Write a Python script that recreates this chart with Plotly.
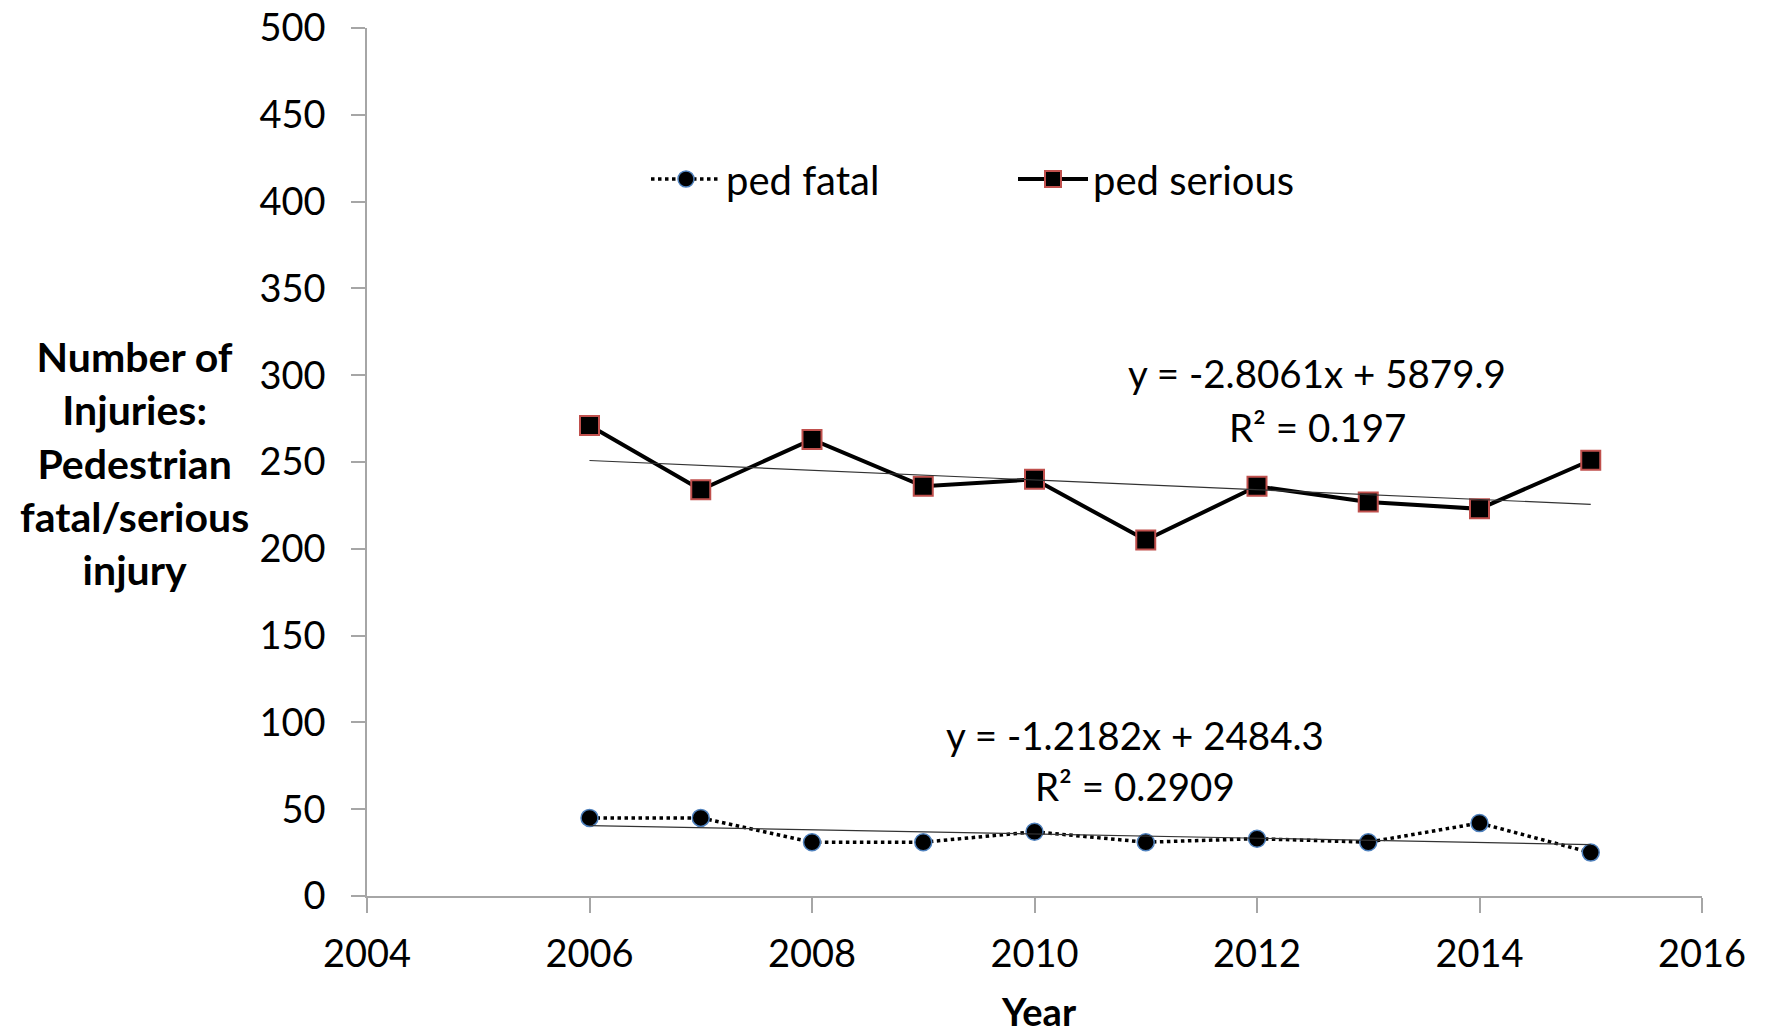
import plotly.graph_objects as go

years = [2006, 2007, 2008, 2009, 2010, 2011, 2012, 2013, 2014, 2015]
ped_fatal = [45, 45, 31, 31, 37, 31, 33, 31, 42, 25]
ped_serious = [271, 234, 263, 236, 240, 205, 236, 227, 223, 251]

fatal_slope, fatal_intercept = -1.2182, 2484.3
serious_slope, serious_intercept = -2.8061, 5879.9
fatal_eq = ["y = -1.2182x + 2484.3", "R² = 0.2909"]
serious_eq = ["y = -2.8061x + 5879.9", "R² = 0.197"]

x_ticks = [2004, 2006, 2008, 2010, 2012, 2014, 2016]
y_ticks = [0, 50, 100, 150, 200, 250, 300, 350, 400, 450, 500]

FONT = "Lato, Carlito, Calibri, sans-serif"

# figure geometry (body margin removed so page == figure pixels)
W, H = 1769, 1035
L, R, T, B = 367, 67, 28, 139
PW, PH = W - L - R, H - T - B


def px(xp):
    return (xp - L) / PW


def py(yp):
    return (T + PH - yp) / PH


trend_x = [years[0], years[-1]]

fig = go.Figure()
fig.add_trace(go.Scatter(
    x=years, y=ped_fatal, name="ped fatal", mode="lines+markers",
    line=dict(color="black", width=3.5, dash="dot"),
    marker=dict(symbol="circle", size=17, color="black",
                line=dict(color="#4f81bd", width=1.5)),
))
fig.add_trace(go.Scatter(
    x=years, y=ped_serious, name="ped serious", mode="lines+markers",
    line=dict(color="black", width=4),
    marker=dict(symbol="square", size=19, color="black",
                line=dict(color="#c0504d", width=2)),
))
fig.add_trace(go.Scatter(
    x=trend_x, y=[fatal_slope * x + fatal_intercept for x in trend_x],
    mode="lines", line=dict(color="#333333", width=1.2), showlegend=False,
    hoverinfo="skip",
))
fig.add_trace(go.Scatter(
    x=trend_x, y=[serious_slope * x + serious_intercept for x in trend_x],
    mode="lines", line=dict(color="#333333", width=1.2), showlegend=False,
    hoverinfo="skip",
))

annotations = []
for txt, ypix in zip(serious_eq, [373, 427]):
    annotations.append(dict(x=px(1317), y=py(ypix), xref="paper", yref="paper",
                            text=txt, showarrow=False, xanchor="center",
                            yanchor="middle",
                            font=dict(family=FONT, size=38.5, color="black")))
for txt, ypix in zip(fatal_eq, [735, 786]):
    annotations.append(dict(x=px(1135), y=py(ypix), xref="paper", yref="paper",
                            text=txt, showarrow=False, xanchor="center",
                            yanchor="middle",
                            font=dict(family=FONT, size=38.5, color="black")))
annotations.append(dict(
    x=px(134), y=py(463), xref="paper", yref="paper",
    text="Number of<br>Injuries:<br>Pedestrian<br>fatal/serious<br>injury",
    showarrow=False, xanchor="center", yanchor="middle", align="center",
    font=dict(family=FONT, size=41, color="black", weight="bold")))
annotations.append(dict(
    x=px(1039), y=py(1011), xref="paper", yref="paper", text="Year",
    showarrow=False, xanchor="center", yanchor="middle",
    font=dict(family=FONT, size=38, color="black", weight="bold")))

fig.update_layout(
    width=W, height=H,
    margin=dict(l=L, r=R, t=T, b=B, autoexpand=False),
    paper_bgcolor="white", plot_bgcolor="white",
    font=dict(family=FONT, size=38, color="black"),
    showlegend=True,
    legend=dict(orientation="h", x=px(646), y=py(179), xanchor="left",
                yanchor="middle", bgcolor="rgba(0,0,0,0)",
                font=dict(family=FONT, size=40, color="black"),
                itemwidth=70,
                entrywidth=282, entrywidthmode="pixels"),
    annotations=annotations,
    xaxis=dict(range=[2004, 2016], tickvals=x_ticks, showgrid=False,
               showline=True, linecolor="#a6a6a6", linewidth=1.5,
               ticks="outside", ticklen=15, tickcolor="#a6a6a6",
               tickwidth=1.5, ticklabelstandoff=9, zeroline=False,
               ticklabeloverflow="allow", automargin=False,
               tickfont=dict(family=FONT, size=38, color="black")),
    yaxis=dict(range=[0, 500], tickvals=y_ticks, showgrid=False,
               showline=True, linecolor="#a6a6a6", linewidth=1.5,
               ticks="outside", ticklen=14, tickcolor="#a6a6a6",
               tickwidth=1.5, ticklabelstandoff=18, zeroline=False,
               ticklabeloverflow="allow", automargin=False,
               tickfont=dict(family=FONT, size=38, color="black")),
)

fig.write_html("out.html",
               config={"displayModeBar": False},
               post_script="document.body.style.margin='0px';"
                           "document.body.style.overflow='hidden';")
